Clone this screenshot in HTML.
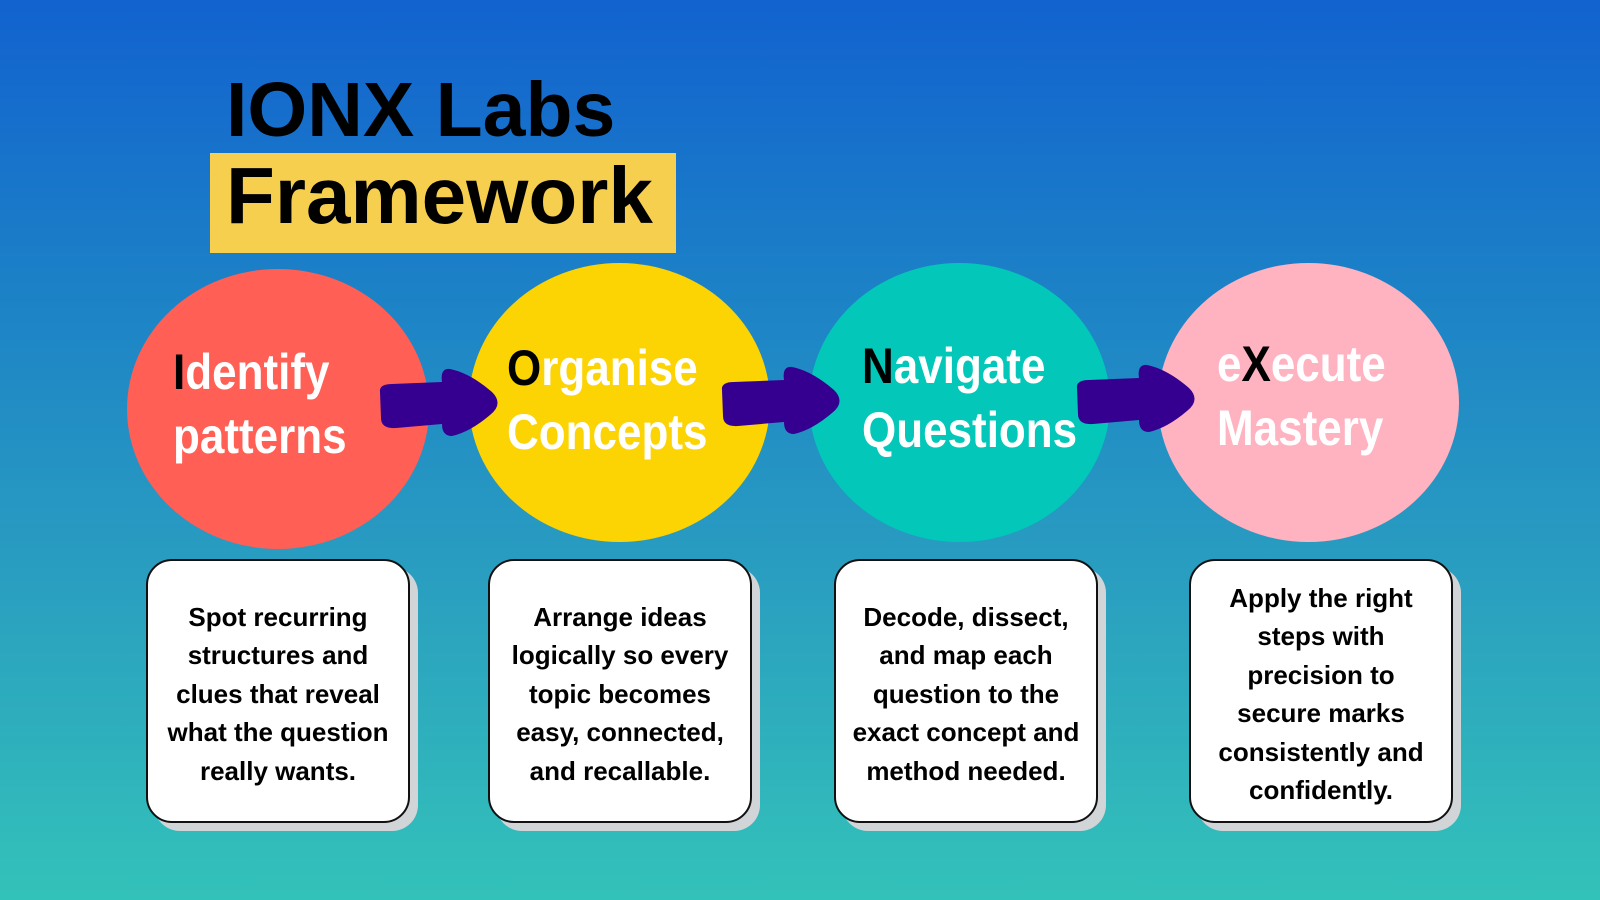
<!DOCTYPE html>
<html><head><meta charset="utf-8"><style>
*{margin:0;padding:0;box-sizing:border-box}
body{width:1600px;height:900px;overflow:hidden;position:relative;font-family:"Liberation Sans",sans-serif;
background:linear-gradient(180deg,#1262cf 0%,#1d84c6 35%,#2a9fc0 65%,#33c2b9 100%)}
.t{position:absolute;font-weight:bold;color:#000;font-size:80px;line-height:1;white-space:nowrap}
.yb{position:absolute;left:210px;top:153px;width:466px;height:100px;background:#f7cf4f}
.c{position:absolute;border-radius:50%}
.ct{position:absolute;font-weight:bold;color:#fff;font-size:50px;line-height:64px;white-space:nowrap;transform:scaleX(0.88);transform-origin:0 0}
.ct b{color:#000}
.sh{position:absolute;background:#d2d5d8;border-radius:26px}
.bx{position:absolute;background:#fff;border:2.5px solid #111;border-radius:26px;display:flex;align-items:center;justify-content:center;text-align:center;font-weight:bold;font-size:26px;line-height:38.5px;color:#000;padding-top:6px}
</style></head><body>
<div class="t" style="left:226px;top:72px;font-size:77px">IONX Labs</div>
<div class="yb"></div>
<div class="t" style="left:226px;top:156px">Framework</div>

<div class="c" style="left:127px;top:269px;width:302px;height:280px;background:#ff5f55"></div>
<div class="c" style="left:469px;top:263px;width:301px;height:279px;background:#fcd303"></div>
<div class="c" style="left:809px;top:263px;width:301px;height:279px;background:#02c7b9"></div>
<div class="c" style="left:1158px;top:263px;width:301px;height:279px;background:#ffb2c0"></div>

<svg style="position:absolute;left:0;top:0" width="1600" height="900">
<g fill="#35008f">
<path d="M380 392 Q379 384 392 384 L442 382 Q440 368 450 369 Q470 373 492 392 Q504 404 490 415 Q470 432 452 436 Q442 436 442 424 L396 428 Q381 429 381 418 Z"/>
<path transform="translate(342,-2)" d="M380 392 Q379 384 392 384 L442 382 Q440 368 450 369 Q470 373 492 392 Q504 404 490 415 Q470 432 452 436 Q442 436 442 424 L396 428 Q381 429 381 418 Z"/>
<path transform="translate(697,-4)" d="M380 392 Q379 384 392 384 L442 382 Q440 368 450 369 Q470 373 492 392 Q504 404 490 415 Q470 432 452 436 Q442 436 442 424 L396 428 Q381 429 381 418 Z"/>
</g></svg>

<div class="ct" style="left:173px;top:340px"><b>I</b>dentify<br>patterns</div>
<div class="ct" style="left:507px;top:336px"><b>O</b>rganise<br>Concepts</div>
<div class="ct" style="left:862px;top:334px"><b>N</b>avigate<br>Questions</div>
<div class="ct" style="left:1217px;top:332px">e<b>X</b>ecute<br>Mastery</div>

<div class="sh" style="left:154px;top:567px;width:264px;height:264px"></div>
<div class="bx" style="left:146px;top:559px;width:264px;height:264px">Spot recurring<br>structures and<br>clues that reveal<br>what the question<br>really wants.</div>
<div class="sh" style="left:496px;top:567px;width:264px;height:264px"></div>
<div class="bx" style="left:488px;top:559px;width:264px;height:264px">Arrange ideas<br>logically so every<br>topic becomes<br>easy, connected,<br>and recallable.</div>
<div class="sh" style="left:842px;top:567px;width:264px;height:264px"></div>
<div class="bx" style="left:834px;top:559px;width:264px;height:264px">Decode, dissect,<br>and map each<br>question to the<br>exact concept and<br>method needed.</div>
<div class="sh" style="left:1197px;top:567px;width:264px;height:264px"></div>
<div class="bx" style="left:1189px;top:559px;width:264px;height:264px">Apply the right<br>steps with<br>precision to<br>secure marks<br>consistently and<br>confidently.</div>
</body></html>
